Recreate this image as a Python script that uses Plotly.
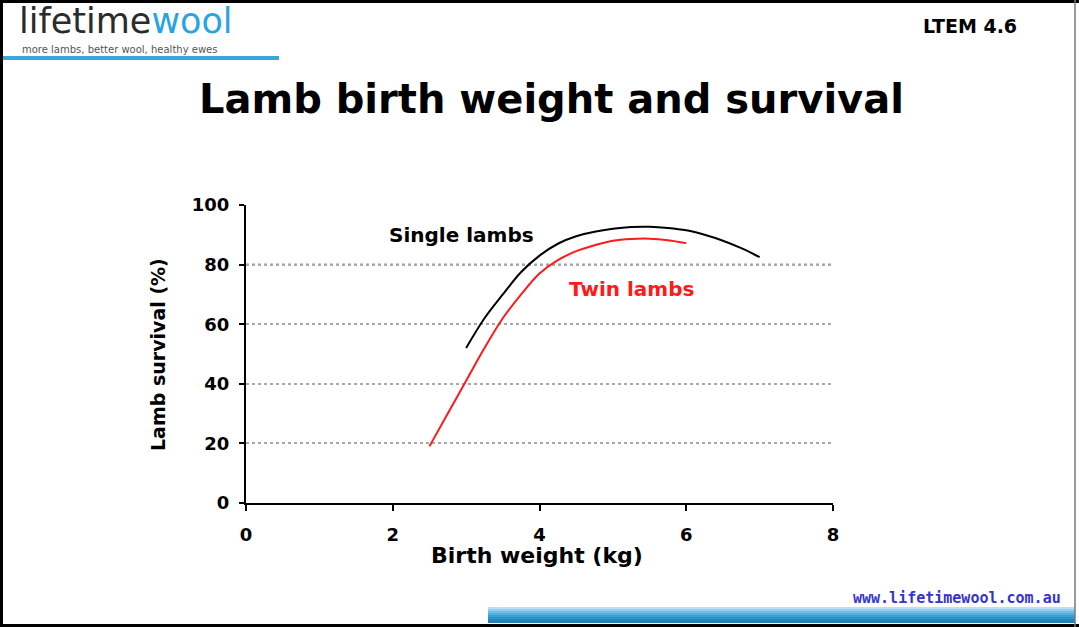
import plotly.graph_objects as go

# birth weight (kg) and survival (%)
single_weight = [3.0, 3.25, 3.5, 3.75, 4.0, 4.25, 4.5, 4.75, 5.0, 5.25, 5.5, 5.75, 6.0, 6.25, 6.5, 6.75, 7.0]
single_survival = [52, 62, 70, 77.5, 83, 87, 89.5, 91, 92, 92.6, 92.7, 92.3, 91.5, 90, 88, 85.5, 82.5]

twin_weight = [2.5, 2.75, 3.0, 3.25, 3.5, 3.75, 4.0, 4.25, 4.5, 4.75, 5.0, 5.25, 5.5, 5.75, 6.0]
twin_survival = [19, 30, 41, 52, 62, 70, 77, 81.5, 84.5, 86.5, 88, 88.6, 88.7, 88.2, 87.2]

x_ticks = [0, 2, 4, 6, 8]
y_ticks = [0, 20, 40, 60, 80, 100]

W, H = 1079, 627
L, R, T, B = 246, 833, 205, 503   # plot area in pixels


def px(x):
    return (x - L) / (R - L)


def py(y):
    return (B - y) / (B - T)


FONT = "DejaVu Sans, Verdana, sans-serif"

fig = go.Figure()
fig.add_trace(go.Scatter(
    x=single_weight, y=single_survival, mode="lines", line_shape="spline",
    line=dict(color="black", width=2), showlegend=False, hoverinfo="skip"))
fig.add_trace(go.Scatter(
    x=twin_weight, y=twin_survival, mode="lines", line_shape="spline",
    line=dict(color="#ff1a1a", width=2), showlegend=False, hoverinfo="skip"))

annotations = [
    dict(text="<b>Lamb birth weight and survival</b>", x=px(551), y=py(99),
         font=dict(size=40, family=FONT, color="black")),
    dict(text="<b>Single lambs</b>", x=2.94, y=89.8, xref="x", yref="y",
         font=dict(size=20, family=FONT, color="black")),
    dict(text="<b>Twin lambs</b>", x=5.26, y=71.7, xref="x", yref="y",
         font=dict(size=20, family=FONT, color="#ff1a1a")),
    dict(text="<b>Birth weight (kg)</b>", x=px(537), y=py(555),
         font=dict(size=22, family=FONT, color="black")),
    dict(text="<b>Lamb survival (%)</b>", x=px(158), y=py(355), textangle=-90,
         font=dict(size=19, family=FONT, color="black")),
    dict(text="<b>LTEM 4.6</b>", x=px(970), y=py(26),
         font=dict(size=19, family=FONT, color="black")),
    dict(text="lifetime<span style='color:#2aa4e0'>wool</span>", x=px(17), y=py(21),
         xanchor="left", font=dict(size=35, family="DejaVu Sans", color="#2b2b2b")),
    dict(text="more lambs, better wool, healthy ewes", x=px(20), y=py(49),
         xanchor="left", font=dict(size=10, family="DejaVu Sans", color="#555555")),
    dict(text="<b>www.lifetimewool.com.au</b>", x=px(1063), y=py(598),
         xanchor="right", font=dict(size=15, family="DejaVu Sans Mono", color="#3434d0")),
]
for a in annotations:
    a.setdefault("xref", "paper")
    a.setdefault("yref", "paper")
    a.setdefault("xanchor", "center")
    a["yanchor"] = "middle"
    a["showarrow"] = False

shapes = [
    # darker dotted line at 80 %
    dict(type="line", xref="paper", yref="y", x0=0, x1=1, y0=80, y1=80,
         line=dict(color="#444444", width=1.5, dash="dot"), layer="below"),
    # logo underline
    dict(type="rect", xref="paper", yref="paper", x0=px(3), x1=px(279), y0=py(56), y1=py(60),
         fillcolor="#3aa6dc", line_width=0),
]
# bottom bar, light to dark blue
bar_cols = ["#b8e2f4", "#8fd0ee", "#6cc0e6", "#4fb0de", "#3aa0d4", "#2d92c8", "#2686bc", "#2680b4"]
for i, c in enumerate(bar_cols):
    shapes.append(dict(type="rect", xref="paper", yref="paper",
                       x0=px(488), x1=px(1075), y0=py(607 + 2 * i), y1=py(609 + 2 * i),
                       fillcolor=c, line_width=0))
# frame: heavy black top / left / bottom, thin grey right
for x0, y0, x1, y1, col, w in [(0, 1.5, 1079, 1.5, "black", 3), (1.5, 0, 1.5, 627, "black", 3),
                               (0, 625.5, 1079, 625.5, "black", 3), (1075, 0, 1075, 627, "#777777", 1.5)]:
    shapes.append(dict(type="line", xref="paper", yref="paper",
                       x0=px(x0), x1=px(x1), y0=py(y0), y1=py(y1), line=dict(color=col, width=w)))

fig.update_layout(
    width=W, height=H,
    margin=dict(l=L, r=W - R, t=T, b=H - B),
    paper_bgcolor="white", plot_bgcolor="white",
    font=dict(family=FONT, color="black"),
    annotations=annotations, shapes=shapes,
    xaxis=dict(range=[0, 8], tickvals=x_ticks, showgrid=False, zeroline=False,
               showline=True, linecolor="black", linewidth=2,
               ticks="outside", ticklen=6, tickwidth=2, tickcolor="black",
               ticklabelstandoff=8, tickfont=dict(size=18, color="black", weight="bold")),
    yaxis=dict(range=[0, 100], tickvals=y_ticks, showgrid=True, gridcolor="#a8a8a8",
               griddash="dot", gridwidth=1.5, zeroline=False,
               showline=True, linecolor="black", linewidth=2,
               ticks="outside", ticklen=5, tickwidth=2, tickcolor="black",
               ticklabelstandoff=6, tickfont=dict(size=18, color="black", weight="bold")),
)

fig.write_html("out.html", config={"displayModeBar": False},
               post_script="document.body.style.margin='0';")
